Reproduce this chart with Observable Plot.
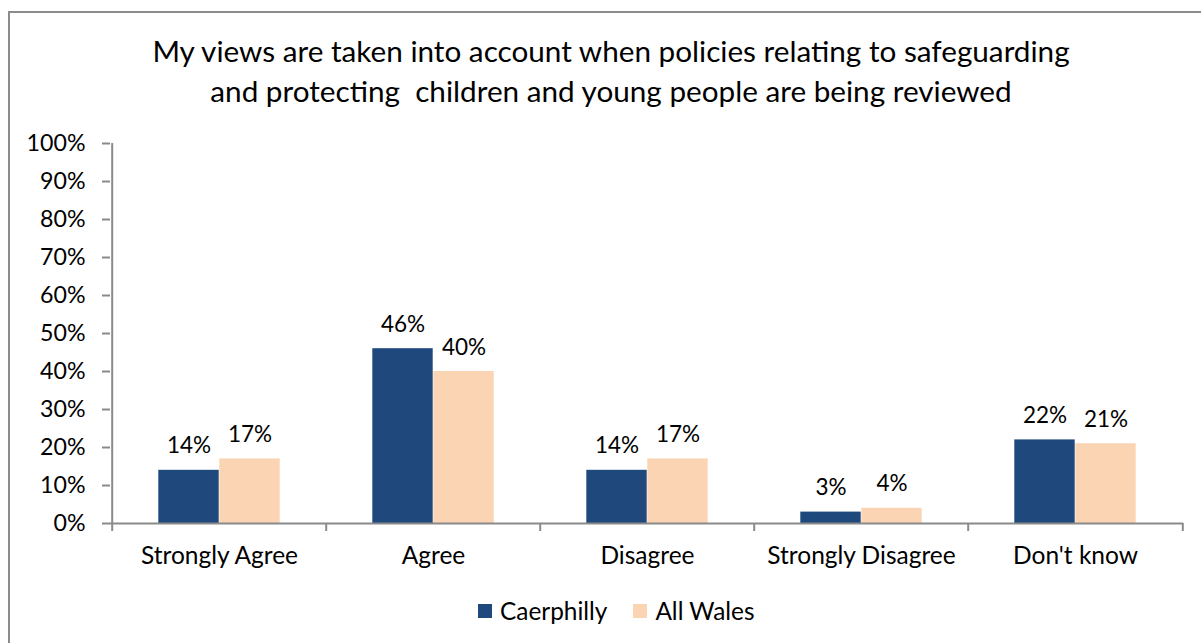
<!DOCTYPE html>
<html>
<head>
<meta charset="utf-8">
<script src="https://cdn.jsdelivr.net/npm/d3@7"></script>
<script src="https://cdn.jsdelivr.net/npm/@observablehq/plot@0.6"></script>
<style>
  html, body { margin: 0; padding: 0; background: #fff; }
  #chart { position: relative; width: 1201px; height: 643px; overflow: hidden; font-family: Lato, "Open Sans", sans-serif; color: #000; }
  #border { position: absolute; left: 8px; top: 11px; width: 1300px; height: 700px; border-left: 2px solid #8c8c8c; border-top: 2px solid #8c8c8c; }
  #title { position: absolute; left: 0; width: 1222px; top: 31px; text-align: center; font-size: 29.7px; line-height: 40px; }
  #plot { position: absolute; left: 0; top: 0; }
  #legend { position: absolute; top: 596px; left: 478px; font-size: 24.4px; display: flex; align-items: center; }
  .sw { width: 14px; height: 14px; display: inline-block; margin-right: 8px; }
  .item { display: flex; align-items: center; margin-right: 26px; }
</style>
</head>
<body>
<div id="chart">
  <div id="border"></div>
  <div id="title">My views are taken into account when policies relating to safeguarding<br>and protecting&nbsp; children and young people are being reviewed</div>
  <div id="plot"></div>
  <div id="legend"></div>
</div>
<script>
const categories = ["Strongly Agree", "Agree", "Disagree", "Strongly Disagree", "Don't know"];
const seriesNames = ["Caerphilly", "All Wales"];
const caerphilly = [0.14, 0.46, 0.14, 0.03, 0.22];
const allWales = [0.17, 0.40, 0.17, 0.04, 0.21];
const colors = ["#1F497D", "#FBD4B4"];
const yTicks = [0, 0.1, 0.2, 0.3, 0.4, 0.5, 0.6, 0.7, 0.8, 0.9, 1.0];

const W = 1201, H = 580, mL = 110, mR = 18, mT = 143, mB = 57;
const step = (W - mL - mR) / categories.length;
const barW = 61, gap = (step - 2 * barW) / 2;

const dataC = categories.map((c, i) => ({category: c, value: caerphilly[i]}));
const dataW = categories.map((c, i) => ({category: c, value: allWales[i]}));
const fmt = d3.format(".0%");
const axisColor = "#8a8a8a";

const plot = Plot.plot({
  width: W, height: H,
  marginLeft: mL, marginRight: mR, marginTop: mT, marginBottom: mB,
  style: {fontFamily: "Lato, 'Open Sans', sans-serif", fontSize: "22px", color: "#000", background: "transparent"},
  x: {type: "band", domain: categories, padding: 0, axis: null},
  y: {domain: [0, 1], axis: null},
  marks: [
    Plot.barY(dataC, {x: "category", y: "value", fill: colors[0], insetLeft: gap, insetRight: step - gap - barW}),
    Plot.barY(dataW, {x: "category", y: "value", fill: colors[1], insetLeft: gap + barW, insetRight: gap}),
    Plot.text(dataC, {x: "category", y: "value", text: d => fmt(d.value), dx: gap + barW / 2 - step / 2, dy: -17, lineAnchor: "bottom", fill: "#000", fontSize: 22.5}),
    Plot.text(dataW, {x: "category", y: "value", text: d => fmt(d.value), dx: gap + barW * 1.5 - step / 2, dy: -17, lineAnchor: "bottom", fill: "#000", fontSize: 22.5}),
    Plot.axisY({ticks: yTicks, tickFormat: fmt, tickSize: 8, tickPadding: 17, stroke: axisColor, strokeWidth: 2, fill: "#000", fontSize: 23.2, label: null}),
    Plot.ruleX([categories[0]], {x: d => d, dx: -step / 2, stroke: axisColor, strokeWidth: 2}),
    Plot.ruleY([0], {stroke: axisColor, strokeWidth: 2}),
    Plot.axisX({tickSize: 0, tickPadding: 23, fill: "#000", fontSize: 24.5, label: null}),
    Plot.axisX({tickSize: 8, tickFormat: () => "", dx: -step / 2, stroke: axisColor, strokeWidth: 2, label: null}),
    Plot.axisX({ticks: [categories[categories.length - 1]], tickSize: 8, tickFormat: () => "", dx: step / 2, stroke: axisColor, strokeWidth: 2, label: null})
  ]
});
document.getElementById("plot").appendChild(plot);

const legend = document.getElementById("legend");
seriesNames.forEach((s, i) => {
  const item = document.createElement("div");
  item.className = "item";
  const sw = document.createElement("span");
  sw.className = "sw";
  sw.style.background = colors[i];
  item.appendChild(sw);
  item.appendChild(document.createTextNode(s));
  legend.appendChild(item);
});
</script>
</body>
</html>
